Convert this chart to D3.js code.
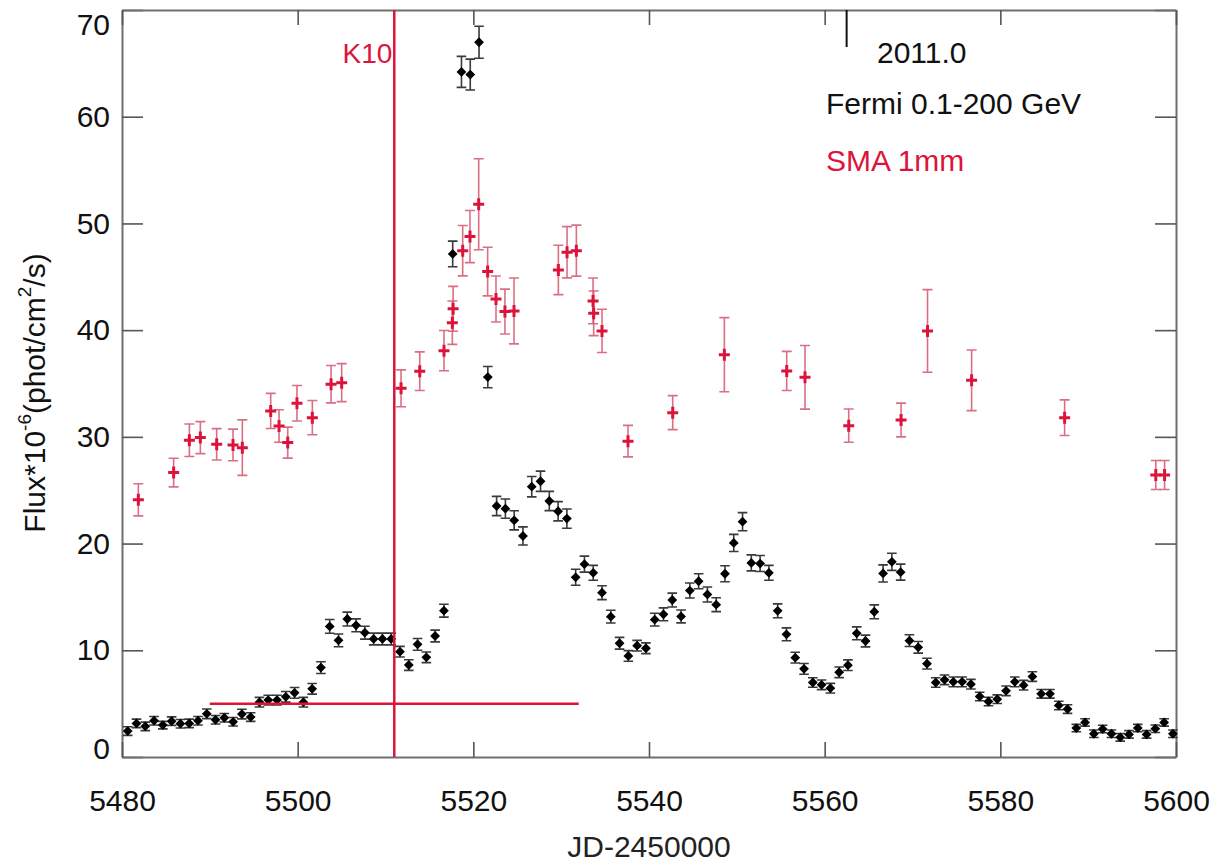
<!DOCTYPE html>
<html><head><meta charset="utf-8">
<script src="https://cdn.jsdelivr.net/npm/d3@7"></script>
<style>
body{margin:0;background:#fff}
svg{display:block}
text{font-family:"Liberation Sans",Arial,Helvetica,sans-serif}
</style>
</head><body>
<svg id="chart" width="1213" height="862"></svg>
<script>
// ---- data ----
const xTicks = [5480, 5500, 5520, 5540, 5560, 5580, 5600];
const yTicks = [0, 10, 20, 30, 40, 50, 60, 70];

const fermiDays = [
 5480.65,5481.65,5482.65,5483.65,5484.65,5485.65,5486.65,5487.65,5488.65,5489.65,
 5490.65,5491.65,5492.65,5493.65,5494.65,5495.65,5496.65,5497.65,5498.65,5499.65,
 5500.65,5501.65,5502.65,5503.65,5504.65,5505.65,5506.65,5507.65,5508.65,5509.65,
 5510.65,5511.65,5512.65,5513.65,5514.65,5515.65,5516.65,5517.65,5518.65,5519.65,
 5520.65,5521.65,5522.65,5523.65,5524.65,5525.65,5526.65,5527.65,5528.65,5529.65,
 5530.65,5531.65,5532.65,5533.65,5534.65,5535.65,5536.65,5537.65,5538.65,5539.65,
 5540.65,5541.65,5542.65,5543.65,5544.65,5545.65,5546.65,5547.65,5548.65,5549.65,
 5550.65,5551.65,5552.65,5553.65,5554.65,5555.65,5556.65,5557.65,5558.65,5559.65,
 5560.65,5561.65,5562.65,5563.65,5564.65,5565.65,5566.65,5567.65,5568.65,5569.65,
 5570.65,5571.65,5572.65,5573.65,5574.65,5575.65,5576.65,5577.65,5578.65,5579.65,
 5580.65,5581.65,5582.65,5583.65,5584.65,5585.65,5586.65,5587.65,5588.65,5589.65,
 5590.65,5591.65,5592.65,5593.65,5594.65,5595.65,5596.65,5597.65,5598.65,5599.65
];
const fermiFlux = [
 2.43,3.15,2.87,3.40,2.99,3.36,3.12,3.15,3.40,4.05,
 3.49,3.68,3.30,4.02,3.74,5.14,5.33,5.33,5.64,6.01,
 5.14,6.39,8.38,12.24,10.93,12.93,12.34,11.65,11.06,11.06,
 11.06,9.87,8.62,10.56,9.34,11.34,13.71,47.14,64.2,63.95,
 66.98,35.6,23.52,23.27,22.18,20.71,25.33,25.84,23.99,23.03,
 22.34,16.84,18.07,17.26,15.4,13.15,10.66,9.47,10.43,10.19,
 12.87,13.37,14.71,13.17,15.6,16.47,15.23,14.27,17.17,20.06,
 22.05,18.19,18.13,17.26,13.7,11.5,9.31,8.26,6.98,6.76,
 6.45,7.94,8.6,11.59,10.87,13.61,17.2,18.29,17.32,10.9,
 10.28,8.75,6.98,7.23,7.04,7.04,6.82,5.67,5.2,5.42,
 6.2,7.04,6.73,7.54,5.92,5.92,4.83,4.49,2.71,3.24,
 2.18,2.62,2.18,1.84,2.12,2.71,2.12,2.65,3.24,2.18
];
const fermiErr = [
 0.4,0.4,0.4,0.4,0.35,0.4,0.4,0.4,0.4,0.45,
 0.4,0.4,0.4,0.45,0.4,0.45,0.45,0.45,0.5,0.5,
 0.45,0.5,0.55,0.65,0.6,0.65,0.6,0.6,0.55,0.55,
 0.55,0.5,0.5,0.55,0.5,0.55,0.6,1.2,1.45,1.45,
 1.5,1.0,0.9,0.9,0.9,0.85,0.95,0.95,0.9,0.9,
 0.9,0.75,0.75,0.7,0.65,0.6,0.55,0.5,0.5,0.5,
 0.6,0.6,0.65,0.6,0.7,0.7,0.7,0.65,0.75,0.8,
 0.85,0.75,0.75,0.7,0.65,0.6,0.5,0.5,0.45,0.45,
 0.45,0.5,0.5,0.6,0.55,0.65,0.8,0.8,0.75,0.55,
 0.55,0.5,0.45,0.45,0.45,0.45,0.45,0.4,0.4,0.4,
 0.45,0.45,0.45,0.45,0.4,0.4,0.4,0.4,0.35,0.35,
 0.35,0.35,0.35,0.35,0.35,0.35,0.35,0.35,0.35,0.35
];

const smaDays = [
 5481.86,5485.88,5487.67,5488.92,5490.78,5492.64,5493.70,5496.93,5497.88,5498.87,
 5499.92,5501.67,5503.80,5505.01,5511.77,5513.90,5516.66,5517.61,5517.70,5518.79,
 5519.62,5520.61,5521.63,5522.58,5523.60,5524.63,5529.68,5530.67,5531.73,5533.63,
 5533.70,5534.65,5537.61,5542.70,5548.58,5555.68,5557.76,5562.74,5568.70,5571.71,
 5576.73,5587.32,5597.70,5598.70
];
const smaFlux = [
 24.1,26.65,29.68,29.93,29.3,29.24,28.99,32.43,31.02,29.46,
 33.15,31.8,34.93,35.08,34.55,36.15,38.08,40.7,42.0,47.45,
 48.77,51.8,45.49,42.92,41.74,41.8,45.64,47.3,47.45,42.74,
 41.58,39.93,29.6,32.27,37.7,36.18,35.58,31.05,31.58,39.93,
 35.3,31.8,26.43,26.43
];
const smaErr = [
 1.5,1.34,1.52,1.5,1.47,1.48,2.6,1.64,1.52,1.45,
 1.66,1.6,1.75,1.78,1.73,1.81,1.89,2.03,2.1,2.36,
 2.44,4.26,2.28,2.16,2.1,3.09,2.31,2.4,2.39,2.14,
 2.09,2.03,1.48,1.59,3.47,1.83,2.98,1.56,1.58,3.87,
 2.84,1.67,1.36,1.36
];

const k10Day = 5511;
const yearMarkDay = 5562.5;      // 2011.0
const refLineDays = [5490, 5532];
const refLineFlux = 5;

const legendTexts = ["2011.0", "Fermi 0.1-200 GeV", "SMA 1mm"];

// ---- drawing ----
const RED = "#dc143c";
const svg = d3.select("#chart");
svg.append("rect").attr("width",1213).attr("height",862).attr("fill","#fff");

const x = d3.scaleLinear().domain([5480, 5600]).range([122, 1176]);
const y = d3.scaleLinear().domain([0, 70]).range([757, 10]);

const FS = 30;

// axes
const axL = svg.append("g").attr("transform",`translate(${x.range()[0]},0)`)
  .call(d3.axisLeft(y).tickValues(yTicks).tickSizeInner(-21).tickSizeOuter(0).tickPadding(12).tickFormat(d3.format("d")));
const axR = svg.append("g").attr("transform",`translate(${x.range()[1]},0)`)
  .call(d3.axisRight(y).tickValues(yTicks).tickSizeInner(-21).tickSizeOuter(0).tickFormat(""));
const axB = svg.append("g").attr("transform",`translate(0,${y.range()[0]})`)
  .call(d3.axisBottom(x).tickValues(xTicks).tickSizeInner(-15).tickSizeOuter(0).tickPadding(33).tickFormat(d3.format("d")));
const axT = svg.append("g").attr("transform",`translate(0,${y.range()[1]})`)
  .call(d3.axisTop(x).tickValues(xTicks).tickSizeInner(-15).tickSizeOuter(0).tickFormat(""));

[axL, axR, axB, axT].forEach(g => {
  g.select(".domain").attr("stroke","#6e6e6e").attr("stroke-width",2);
  g.selectAll(".tick line").attr("stroke","#555").attr("stroke-width",1.6);
  g.selectAll(".tick text").attr("font-size",FS).attr("fill","#111")
    .attr("font-family",'"Liberation Sans",Arial,Helvetica,sans-serif');
});
// keep end labels inside the frame like the original
axL.selectAll(".tick text").attr("dy", d => d === 70 ? "0.82em" : (d === 0 ? "0.05em" : "0.32em"));

// 2011.0 marker tick on top axis
svg.append("line")
  .attr("x1", x(yearMarkDay)).attr("x2", x(yearMarkDay))
  .attr("y1", y(70)).attr("y2", y(70) + 37)
  .attr("stroke","#111").attr("stroke-width",2);

// Fermi error bars
const fg = svg.append("g");
const fermi = fermiDays.map((d,i)=>({d, v:fermiFlux[i], e:fermiErr[i]}));
const capW = 4.8;
fg.selectAll("path.err").data(fermi).join("path")
  .attr("d", p => {
    const cx = x(p.d), y1 = y(p.v + p.e), y2 = y(p.v - p.e);
    return `M${cx},${y1}V${y2}M${cx-capW},${y1}H${cx+capW}M${cx-capW},${y2}H${cx+capW}`;
  })
  .attr("fill","none").attr("stroke","#3a3a3a").attr("stroke-width",1.6);
fg.selectAll("path.pt").data(fermi).join("path")
  .attr("d", d3.symbol().type(d3.symbolSquare).size(48))
  .attr("transform", p => `translate(${x(p.d)},${y(p.v)}) rotate(45)`)
  .attr("fill","#000");

// SMA error bars + crosses
const sg = svg.append("g");
const sma = smaDays.map((d,i)=>({d, v:smaFlux[i], e:smaErr[i]}));
const capS = 5;
sg.selectAll("path.err").data(sma).join("path")
  .attr("d", p => {
    const cx = x(p.d), y1 = y(p.v + p.e), y2 = y(p.v - p.e);
    return `M${cx},${y1}V${y2}M${cx-capS},${y1}H${cx+capS}M${cx-capS},${y2}H${cx+capS}`;
  })
  .attr("fill","none").attr("stroke","#d4566f").attr("stroke-width",1.6).attr("opacity",0.85);
sg.selectAll("path.pt").data(sma).join("path")
  .attr("d", p => {
    const cx = x(p.d), cy = y(p.v);
    return `M${cx-5.5},${cy}H${cx+5.5}M${cx},${cy-6}V${cy+6}`;
  })
  .attr("fill","none").attr("stroke",RED).attr("stroke-width",3);

// K10 vertical line and reference horizontal line
svg.append("line")
  .attr("x1", x(k10Day)).attr("x2", x(k10Day))
  .attr("y1", y(0)).attr("y2", y(70))
  .attr("stroke", RED).attr("stroke-width", 2.5);
svg.append("line")
  .attr("x1", x(refLineDays[0])).attr("x2", x(refLineDays[1]))
  .attr("y1", y(refLineFlux)).attr("y2", y(refLineFlux))
  .attr("stroke", RED).attr("stroke-width", 2.5);
svg.append("text").text("K10")
  .attr("x", x(k10Day) - 2).attr("y", 63)
  .attr("text-anchor","end").attr("font-size",28).attr("fill",RED);

// legend texts
svg.append("text").text(legendTexts[0]).attr("x",877).attr("y",63)
  .attr("font-size",FS).attr("fill","#111");
svg.append("text").text(legendTexts[1]).attr("x",826).attr("y",114)
  .attr("font-size",FS).attr("fill","#111");
svg.append("text").text(legendTexts[2]).attr("x",826).attr("y",171)
  .attr("font-size",FS).attr("fill",RED);

// axis titles
svg.append("text").text("JD-2450000")
  .attr("x", (x.range()[0]+x.range()[1])/2).attr("y", 857)
  .attr("text-anchor","middle").attr("font-size",FS).attr("fill","#222");

const yl = svg.append("text")
  .attr("transform","translate(45,393) rotate(-90)")
  .attr("text-anchor","middle").attr("font-size",30).attr("fill","#111");
yl.append("tspan").text("Flux*10");
yl.append("tspan").text("-6").attr("font-size",19).attr("dy","-0.75em");
yl.append("tspan").text("(phot/cm").attr("dy","0.47em");
yl.append("tspan").text("2").attr("font-size",19).attr("dy","-0.75em");
yl.append("tspan").text("/s)").attr("dy","0.47em");
</script>
</body></html>
